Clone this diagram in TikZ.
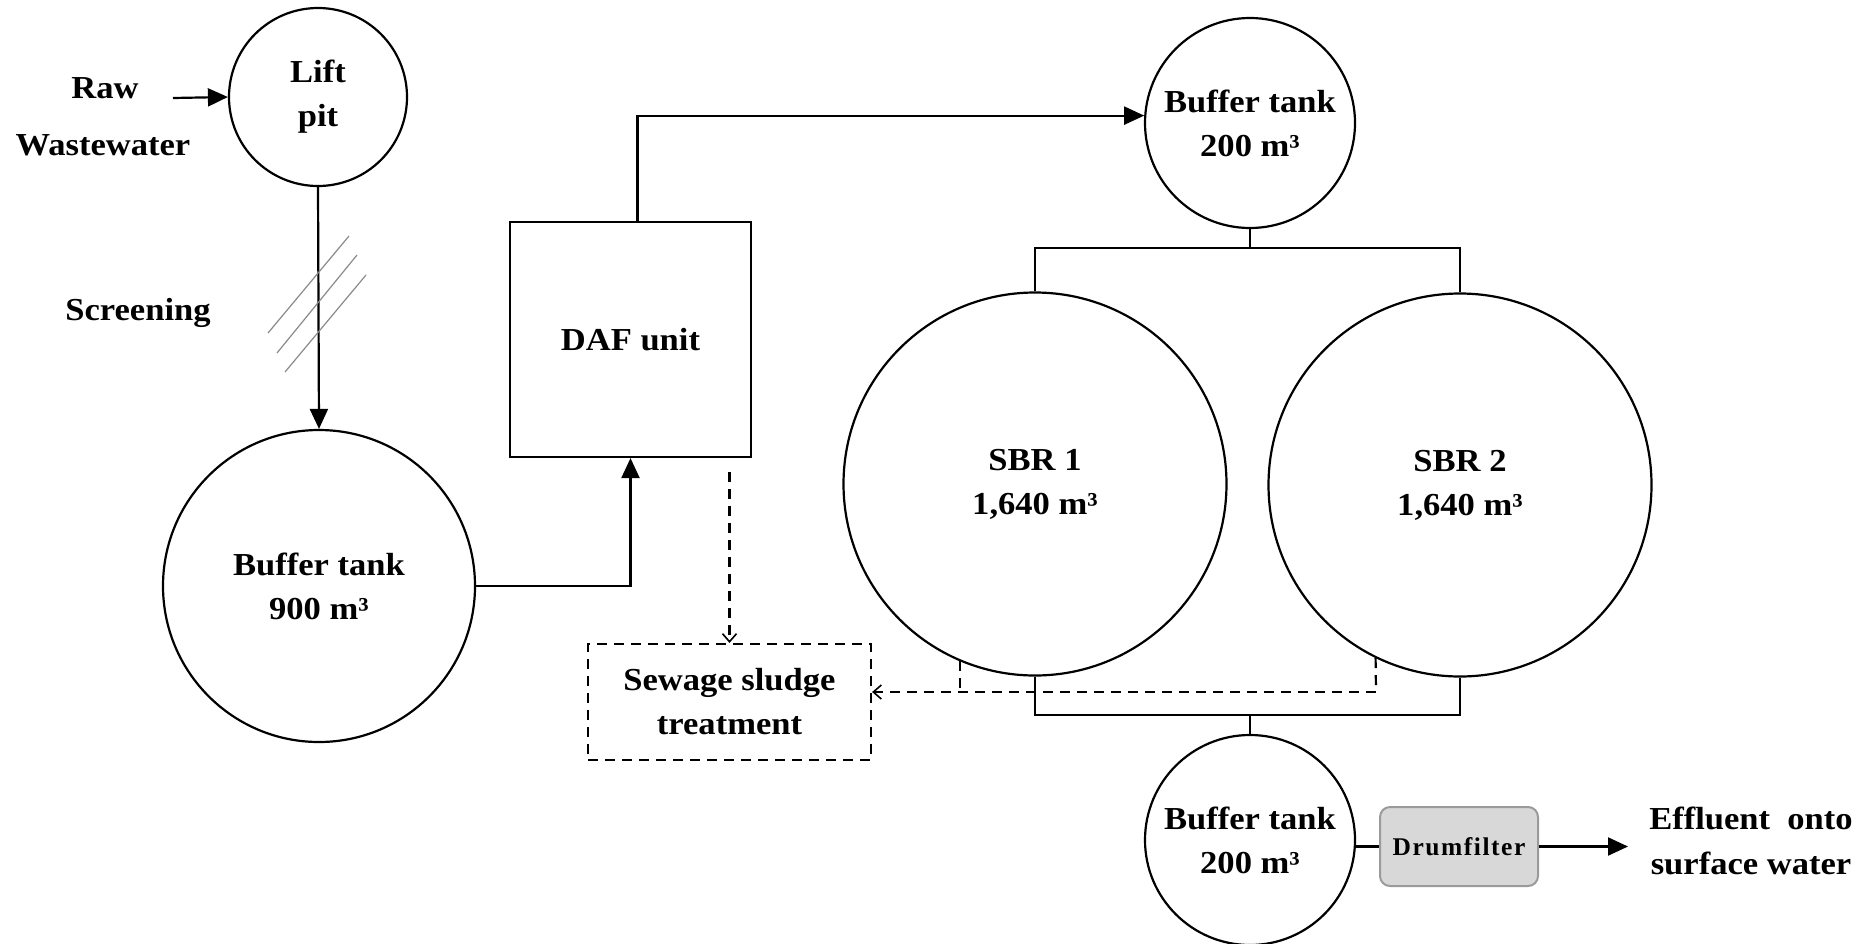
\documentclass[tikz,border=0pt]{standalone}
\usepackage{fontspec}
\setmainfont{Liberation Serif}[FakeStretch=1.08]
\newfontfamily\drumfont{Liberation Serif}[LetterSpace=6]
\usetikzlibrary{arrows.meta}
\definecolor{drumfill}{HTML}{D8D8D8}
\definecolor{drumline}{HTML}{9A9A9A}
\definecolor{hatch}{HTML}{8A8A8A}
\tikzset{
  lbl/.style={font=\fontsize{32}{44}\selectfont\bfseries, align=center, inner sep=0pt},
  tank/.style={lbl, draw, circle, line width=2.2pt, inner sep=0pt},
  unitbox/.style={lbl, draw, rectangle, line width=2.2pt, inner sep=0pt},
  pipe/.style={line width=2.2pt},
  arr/.style={pipe, -{Triangle[length=20pt,width=18pt]}},
  dsh/.style={line width=2.2pt, dash pattern=on 10pt off 7pt},
  dsharr/.style={dsh, -{Straight Barb[length=8pt,width=14pt,line width=1.6pt]}},
}
\begin{document}
\begin{tikzpicture}[x=1pt,y=-1pt]
\useasboundingbox (0,0) rectangle (1870,943);
% labels
\node[lbl] (raw) at (105,88) {Raw};
\node[lbl] (ww) at (103,145) {Wastewater};
\node[lbl] (scr) at (138,313) {Screening};
% tanks
\node[tank, minimum size=178pt] (lift) at (318,97) {Lift\\pit};
\node[tank, minimum size=312pt] (buf900) at (319,586) {Buffer tank\\900 m³};
\node[tank, minimum size=210pt] (buftop) at (1250,123) {Buffer tank\\200 m³};
\node[tank, minimum size=383pt] (sbr1) at (1035,484) {SBR 1\\1,640 m³};
\node[tank, minimum size=383pt] (sbr2) at (1460,485) {SBR 2\\1,640 m³};
\node[tank, minimum size=210pt] (bufbot) at (1250,840) {Buffer tank\\200 m³};
% boxes
\node[unitbox, minimum width=241pt, minimum height=235pt] (daf) at (630.5,339.5) {DAF unit};
\node[lbl, draw, dsh, minimum width=283pt, minimum height=116pt] (sew) at (729.5,702) {Sewage sludge\\treatment};
\node[draw=drumline, fill=drumfill, line width=2pt, rounded corners=10pt, minimum width=158pt, minimum height=79pt, inner sep=0pt, font=\fontsize{25.5}{30}\drumfont\bfseries] (drum) at (1459,846.5) {Drumfilter};
\node[lbl, font=\fontsize{32}{45}\selectfont\bfseries] (eff) at (1751,841) {Effluent~~onto\\surface water};
% coordinates
\coordinate (rawstart) at (173,98);
\coordinate (tb) at (1250,248);
\coordinate (lb) at (1250,715);
\coordinate (dj) at (1376,692);
\coordinate (efftip) at (1628,846.5);
% solid connectors
\draw[arr] (rawstart) -- (lift.west);
\draw[arr] (lift.south) -- (buf900.north);
\draw[arr] (buf900.east) -| (daf.south);
\draw[arr] ([xshift=7pt]daf.north) |- (buftop.176);
\draw[pipe] (buftop.south) -- (tb);
\draw[pipe] (sbr1.north) |- (tb) -| (sbr2.north);
\draw[pipe] (sbr1.south) |- (lb) -| (sbr2.south);
\draw[pipe] (lb) -- (bufbot.north);
\draw[pipe] (bufbot.east |- drum.west) -- (drum.west);
\draw[arr] (drum.east) -- (efftip);
% screening hatch
\draw[hatch, line width=1.2pt] (268,333) -- (349,236) (277,353) -- (357,255) (285,372) -- (366,275);
% dashed sludge lines
\draw[dsharr] ([yshift=-14pt]daf.south -| sew.north) -- (sew.north);
\draw[dsh] (sbr2.244) -- (dj);
\draw[dsh] (sbr1.247) -- (sbr1.247 |- dj);
\draw[dsharr] (dj) -- (dj -| sew.east);
\end{tikzpicture}
\end{document}
